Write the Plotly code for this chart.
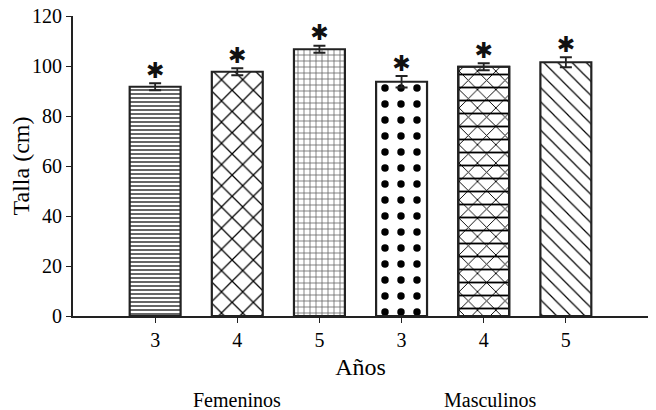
import plotly.graph_objects as go

x_pos = [0, 1, 2, 3, 4, 5]
tick_labels = ["3", "4", "5", "3", "4", "5"]
talla = [91.7, 97.7, 106.7, 93.7, 99.7, 101.5]
errores = [1.4, 1.4, 1.4, 2.3, 1.4, 2.0]
grupos = ["Femeninos", "Masculinos"]
grupo_pos = [1, 4.08]

shapes_pat = ["-", "x", "+", ".", "x", "\\"]
sizes_pat = [4, 15, 6, 16, 13, 10]
fg_pat = ["black", "black", "#666666", "black", "black", "black"]
sol_pat = [0.3, 0.16, 0.25, 0.17, 0.14, 0.12]

FONT = "Liberation Serif"

fig = go.Figure()
fig.add_trace(go.Bar(
    x=x_pos, y=talla, width=0.62,
    marker=dict(color="white", line=dict(color="#222222", width=2.2),
                pattern=dict(shape=shapes_pat, size=sizes_pat, fgcolor=fg_pat,
                             bgcolor="white", solidity=sol_pat, fgopacity=1)),
    error_y=dict(type="data", array=errores, visible=True, color="#222222",
                 thickness=1.8, width=6),
    hoverinfo="skip", showlegend=False,
))
# extra horizontal lines for the triangle pattern bar
fig.add_trace(go.Bar(
    x=[x_pos[4]], y=[talla[4]], width=0.62,
    marker=dict(color="rgba(0,0,0,0)", line=dict(color="#222222", width=2.2),
                pattern=dict(shape="-", size=13, fgcolor="black", solidity=0.14,
                             fgopacity=1)),
    hoverinfo="skip", showlegend=False,
))
fig.add_trace(go.Scatter(
    x=x_pos, y=[v + e for v, e in zip(talla, errores)], mode="text",
    text=["✱"] * 6, textposition="top center",
    textfont=dict(family="DejaVu Sans", size=22, color="#111111"),
    hoverinfo="skip", showlegend=False, cliponaxis=False,
))

for g, p in zip(grupos, grupo_pos):
    fig.add_annotation(x=p, y=0, xref="x", yref="y", text=g, showarrow=False,
                       yshift=-84, font=dict(family=FONT, size=20, color="black"))

# the page adds an 8px body margin, so the figure is shrunk by 8px on each side
fig.update_layout(
    width=648, height=402, barmode="overlay",
    margin=dict(l=65, r=8, t=8, b=94),
    paper_bgcolor="white", plot_bgcolor="white",
    font=dict(family=FONT, size=20, color="black"),
)
fig.update_xaxes(range=[-1, 6], tickvals=x_pos + [6], ticktext=tick_labels + [""],
                 showline=True, linecolor="#222222", linewidth=2, ticks="outside",
                 ticklen=5, tickcolor="#222222", showgrid=False, zeroline=False,
                 automargin=False, ticklabeloverflow="allow",
                 title=dict(text="Años", standoff=8))
fig.update_yaxes(range=[0, 120], tickvals=[0, 20, 40, 60, 80, 100, 120],
                 showline=True, linecolor="#222222", linewidth=2, ticks="outside",
                 ticklen=5, tickcolor="#222222", showgrid=False, zeroline=False,
                 automargin=False, ticklabeloverflow="allow",
                 title=dict(text="Talla (cm)", standoff=4))

fig.write_html("out.html")
